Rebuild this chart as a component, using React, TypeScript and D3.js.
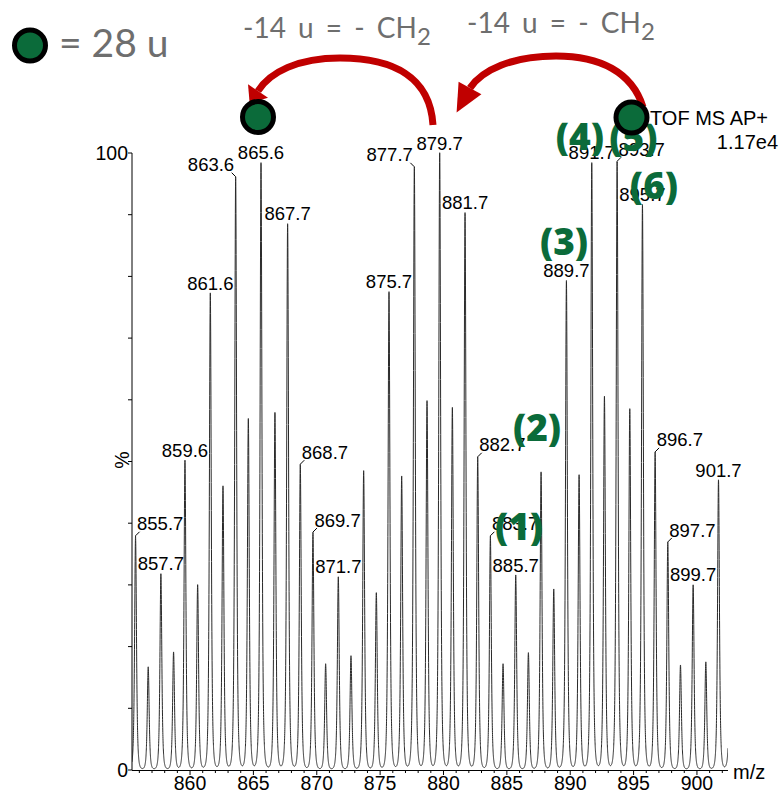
import React from "react";
import * as d3 from "d3";

// ---- data ----
const peakMz = [
  855.7, 856.7, 857.7, 858.7, 859.6, 860.6, 861.6, 862.6, 863.6, 864.6,
  865.6, 866.7, 867.7, 868.7, 869.7, 870.7, 871.7, 872.7, 873.7, 874.7,
  875.7, 876.7, 877.7, 878.7, 879.7, 880.7, 881.7, 882.7, 883.7, 884.7,
  885.7, 886.7, 887.7, 888.7, 889.7, 890.7, 891.7, 892.7, 893.7, 894.7,
  895.7, 896.7, 897.7, 898.7, 899.7, 900.7, 901.7, 902.7,
];
const peakPct = [
  37.8, 16.7, 31.8, 19.1, 50.2, 30.0, 77.3, 46.0, 96.0, 56.9,
  98.4, 57.9, 88.5, 49.4, 38.4, 17.2, 31.3, 18.5, 48.5, 28.7,
  77.5, 47.6, 97.6, 59.8, 100, 58.7, 90.3, 50.6, 37.8, 17.2,
  31.6, 19.0, 48.3, 29.3, 79.3, 47.8, 98.4, 60.5, 98.5, 58.5,
  91.6, 51.4, 36.8, 17.0, 30.0, 17.5, 47.0, 70,
];
// labelled peaks: text and placement (c = centred, r = right of peak, l = left of peak)
const labelText = [
  "855.7", "857.7", "859.6", "861.6", "863.6", "865.6", "867.7", "868.7", "869.7",
  "871.7", "875.7", "877.7", "879.7", "881.7", "882.7", "883.7", "885.7", "889.7",
  "891.7", "893.7", "895.7", "896.7", "897.7", "899.7", "901.7",
];
const labelMode = [
  "r", "c", "c", "c", "l", "c", "c", "r", "r",
  "c", "c", "l", "c", "c", "r", "r", "c", "c",
  "c", "r", "c", "r", "r", "c", "c",
];
const xTicks = [860, 865, 870, 875, 880, 885, 890, 895, 900];
const yTicks = [0, 10, 20, 30, 40, 50, 60, 70, 80, 90, 100];
const yTickLabels = ["0", "100"];

// green numbered annotations (position in data units)
const numText = ["(1)", "(2)", "(3)", "(4)", "(5)", "(6)"];
const numMz = [885.96, 887.38, 889.51, 890.77, 894.99, 896.61];
const numPct = [39.4, 55.4, 85.6, 102.6, 102.4, 94.7];

const GREEN = "#0b6b3a";
const RED = "#c00000";
const GRAY = "#6e6e6e";
const SANS = "'Liberation Sans', Arial, sans-serif";
const CAL = "Lato, 'Open Sans', sans-serif";
const BOLD = "'Open Sans', Lato, sans-serif";

function arrowHead(ex: number, ey: number, dx: number, dy: number, len: number, hw: number) {
  const n = Math.hypot(dx, dy);
  const ux = dx / n, uy = dy / n;
  const px = -uy, py = ux;
  const tip = [ex + ux * len, ey + uy * len];
  const a = [ex + px * hw, ey + py * hw];
  const b = [ex - px * hw, ey - py * hw];
  return `M${a[0]},${a[1]}L${tip[0]},${tip[1]}L${b[0]},${b[1]}Z`;
}

export default function App() {
  const W = 781, H = 797;
  const x = d3.scaleLinear().domain([855.42, 902.45]).range([132, 728]);
  const y = d3.scaleLinear().domain([0, 100]).range([770, 153]);

  // profile rendering of the centroid peaks
  const wid = 0.134;
  const shape = (d: number) => 1 / Math.pow(1 + (d / wid) * (d / wid), 2);
  const [m0, m1] = x.domain();
  const samples = d3.range(m0, m1, 0.004).concat(peakMz.filter((m) => m < m1)).sort((a, b) => a - b);
  samples.push(m1);
  const profile = samples.map((m) => {
    let s = 0;
    for (let i = 0; i < peakMz.length; i++) {
      const d = m - peakMz[i];
      if (Math.abs(d) < 3) s += peakPct[i] * shape(d);
    }
    return [m, s] as [number, number];
  });
  const line = d3.line<[number, number]>().x((d) => x(d[0])).y((d) => y(d[1]));

  const minorTicks = d3.range(856, 903, 1);

  const labels = labelText.map((t, i) => {
    const m = parseFloat(t);
    const idx = peakMz.findIndex((p) => Math.abs(p - m) < 0.01);
    const px = x(peakMz[idx]);
    const py = y(peakPct[idx]);
    return { t, mode: labelMode[i], px, py };
  });

  // arrows (annotation geometry)
  const a1 = "M433,125 C430,76 392,58 340,58 C298,58 270,72 258,91";
  const a2 = "M643,107 C632,72 600,56 556,56 C512,56 482,70 470,88";

  return (
    <svg
      width={W}
      height={H}
      style={{ position: "absolute", left: 0, top: 0, background: "#fff" }}
      fontFamily={SANS}
    >
      <defs>
        <clipPath id="plot">
          <rect x={132} y={0} width={596} height={771} />
        </clipPath>
      </defs>

      {/* spectrum */}
      <path d={line(profile) || ""} fill="none" stroke="#2a2a2a" strokeWidth={1} clipPath="url(#plot)" />

      {/* axes */}
      <line x1={132} x2={132} y1={y(100)} y2={y(0)} stroke="#000" strokeWidth={1} />
      {yTicks.map((t) => (
        <line key={t} x1={128} x2={132} y1={y(t)} y2={y(t)} stroke="#000" strokeWidth={1} />
      ))}
      <line x1={132} x2={728} y1={770.5} y2={770.5} stroke="#000" strokeWidth={1} />
      {minorTicks.map((t) => (
        <line key={t} x1={x(t)} x2={x(t)} y1={770} y2={xTicks.includes(t) ? 775 : 773} stroke="#000" strokeWidth={1} />
      ))}
      {xTicks.map((t) => (
        <text key={t} x={x(t)} y={790} fontSize={19.5} textAnchor="middle">
          {t}
        </text>
      ))}
      <text x={128} y={y(100) + 7} fontSize={19.5} textAnchor="end">{yTickLabels[1]}</text>
      <text x={128} y={y(0) + 7} fontSize={19.5} textAnchor="end">{yTickLabels[0]}</text>
      <text x={733} y={779} fontSize={20}>m/z</text>
      <text transform={`translate(129,460) rotate(-90)`} fontSize={19.5} textAnchor="middle">%</text>

      <text x={650} y={125} fontSize={20}>TOF MS AP+</text>
      <text x={778} y={149} fontSize={20} textAnchor="end">1.17e4</text>

      {/* peak labels */}
      {labels.map((l) => {
        if (l.mode === "c") {
          return (
            <text key={l.t} x={l.px} y={l.py - 3.5} fontSize={18.5} textAnchor="middle">
              {l.t}
            </text>
          );
        }
        const s = l.mode === "r" ? 1 : -1;
        return (
          <g key={l.t}>
            <path
              d={`M${l.px},${l.py}L${l.px},${l.py - 1}L${l.px + s * 4},${l.py - 5}`}
              fill="none"
              stroke="#000"
              strokeWidth={1}
            />
            <text
              x={l.px + s * 1.5}
              y={l.py - 6.4}
              fontSize={18.5}
              textAnchor={l.mode === "r" ? "start" : "end"}
            >
              {l.t}
            </text>
          </g>
        );
      })}

      {/* green numbered annotations */}
      {numText.map((t, i) => (
        <text
          key={t}
          x={x(numMz[i])}
          y={y(numPct[i]) + 13}
          fontSize={37}
          fontWeight={800}
          fontFamily={BOLD}
          fill={GREEN}
          textAnchor="middle"
        >
          {t}
        </text>
      ))}

      {/* legend and CH2 texts */}
      <circle cx={30} cy={45.5} r={15.5} fill={GREEN} stroke="#000" strokeWidth={5} />
      <text x={59} y={57} fontSize={39} fontFamily={CAL} fill={GRAY}>= 28 u</text>
      <text x={243} y={38} fontSize={28} fontFamily={CAL} fill={GRAY} wordSpacing={5}>
        -14 u = - CH<tspan fontSize={24} dy={7}>2</tspan>
      </text>
      <text x={467} y={33} fontSize={28} fontFamily={CAL} fill={GRAY} wordSpacing={5}>
        -14 u = - CH<tspan fontSize={24} dy={7}>2</tspan>
      </text>

      {/* arrows */}
      <path d={a1} fill="none" stroke={RED} strokeWidth={7} />
      <path d={arrowHead(258, 91, -12, 18, 15, 12)} fill={RED} />
      <path d={a2} fill="none" stroke={RED} strokeWidth={7} />
      <path d={arrowHead(470, 88, -12, 22, 28, 13)} fill={RED} />

      {/* circles */}
      <circle cx={258} cy={117} r={15.5} fill={GREEN} stroke="#000" strokeWidth={5} />
      <circle cx={631.5} cy={117.5} r={15.5} fill={GREEN} stroke="#000" strokeWidth={5} />
    </svg>
  );
}
